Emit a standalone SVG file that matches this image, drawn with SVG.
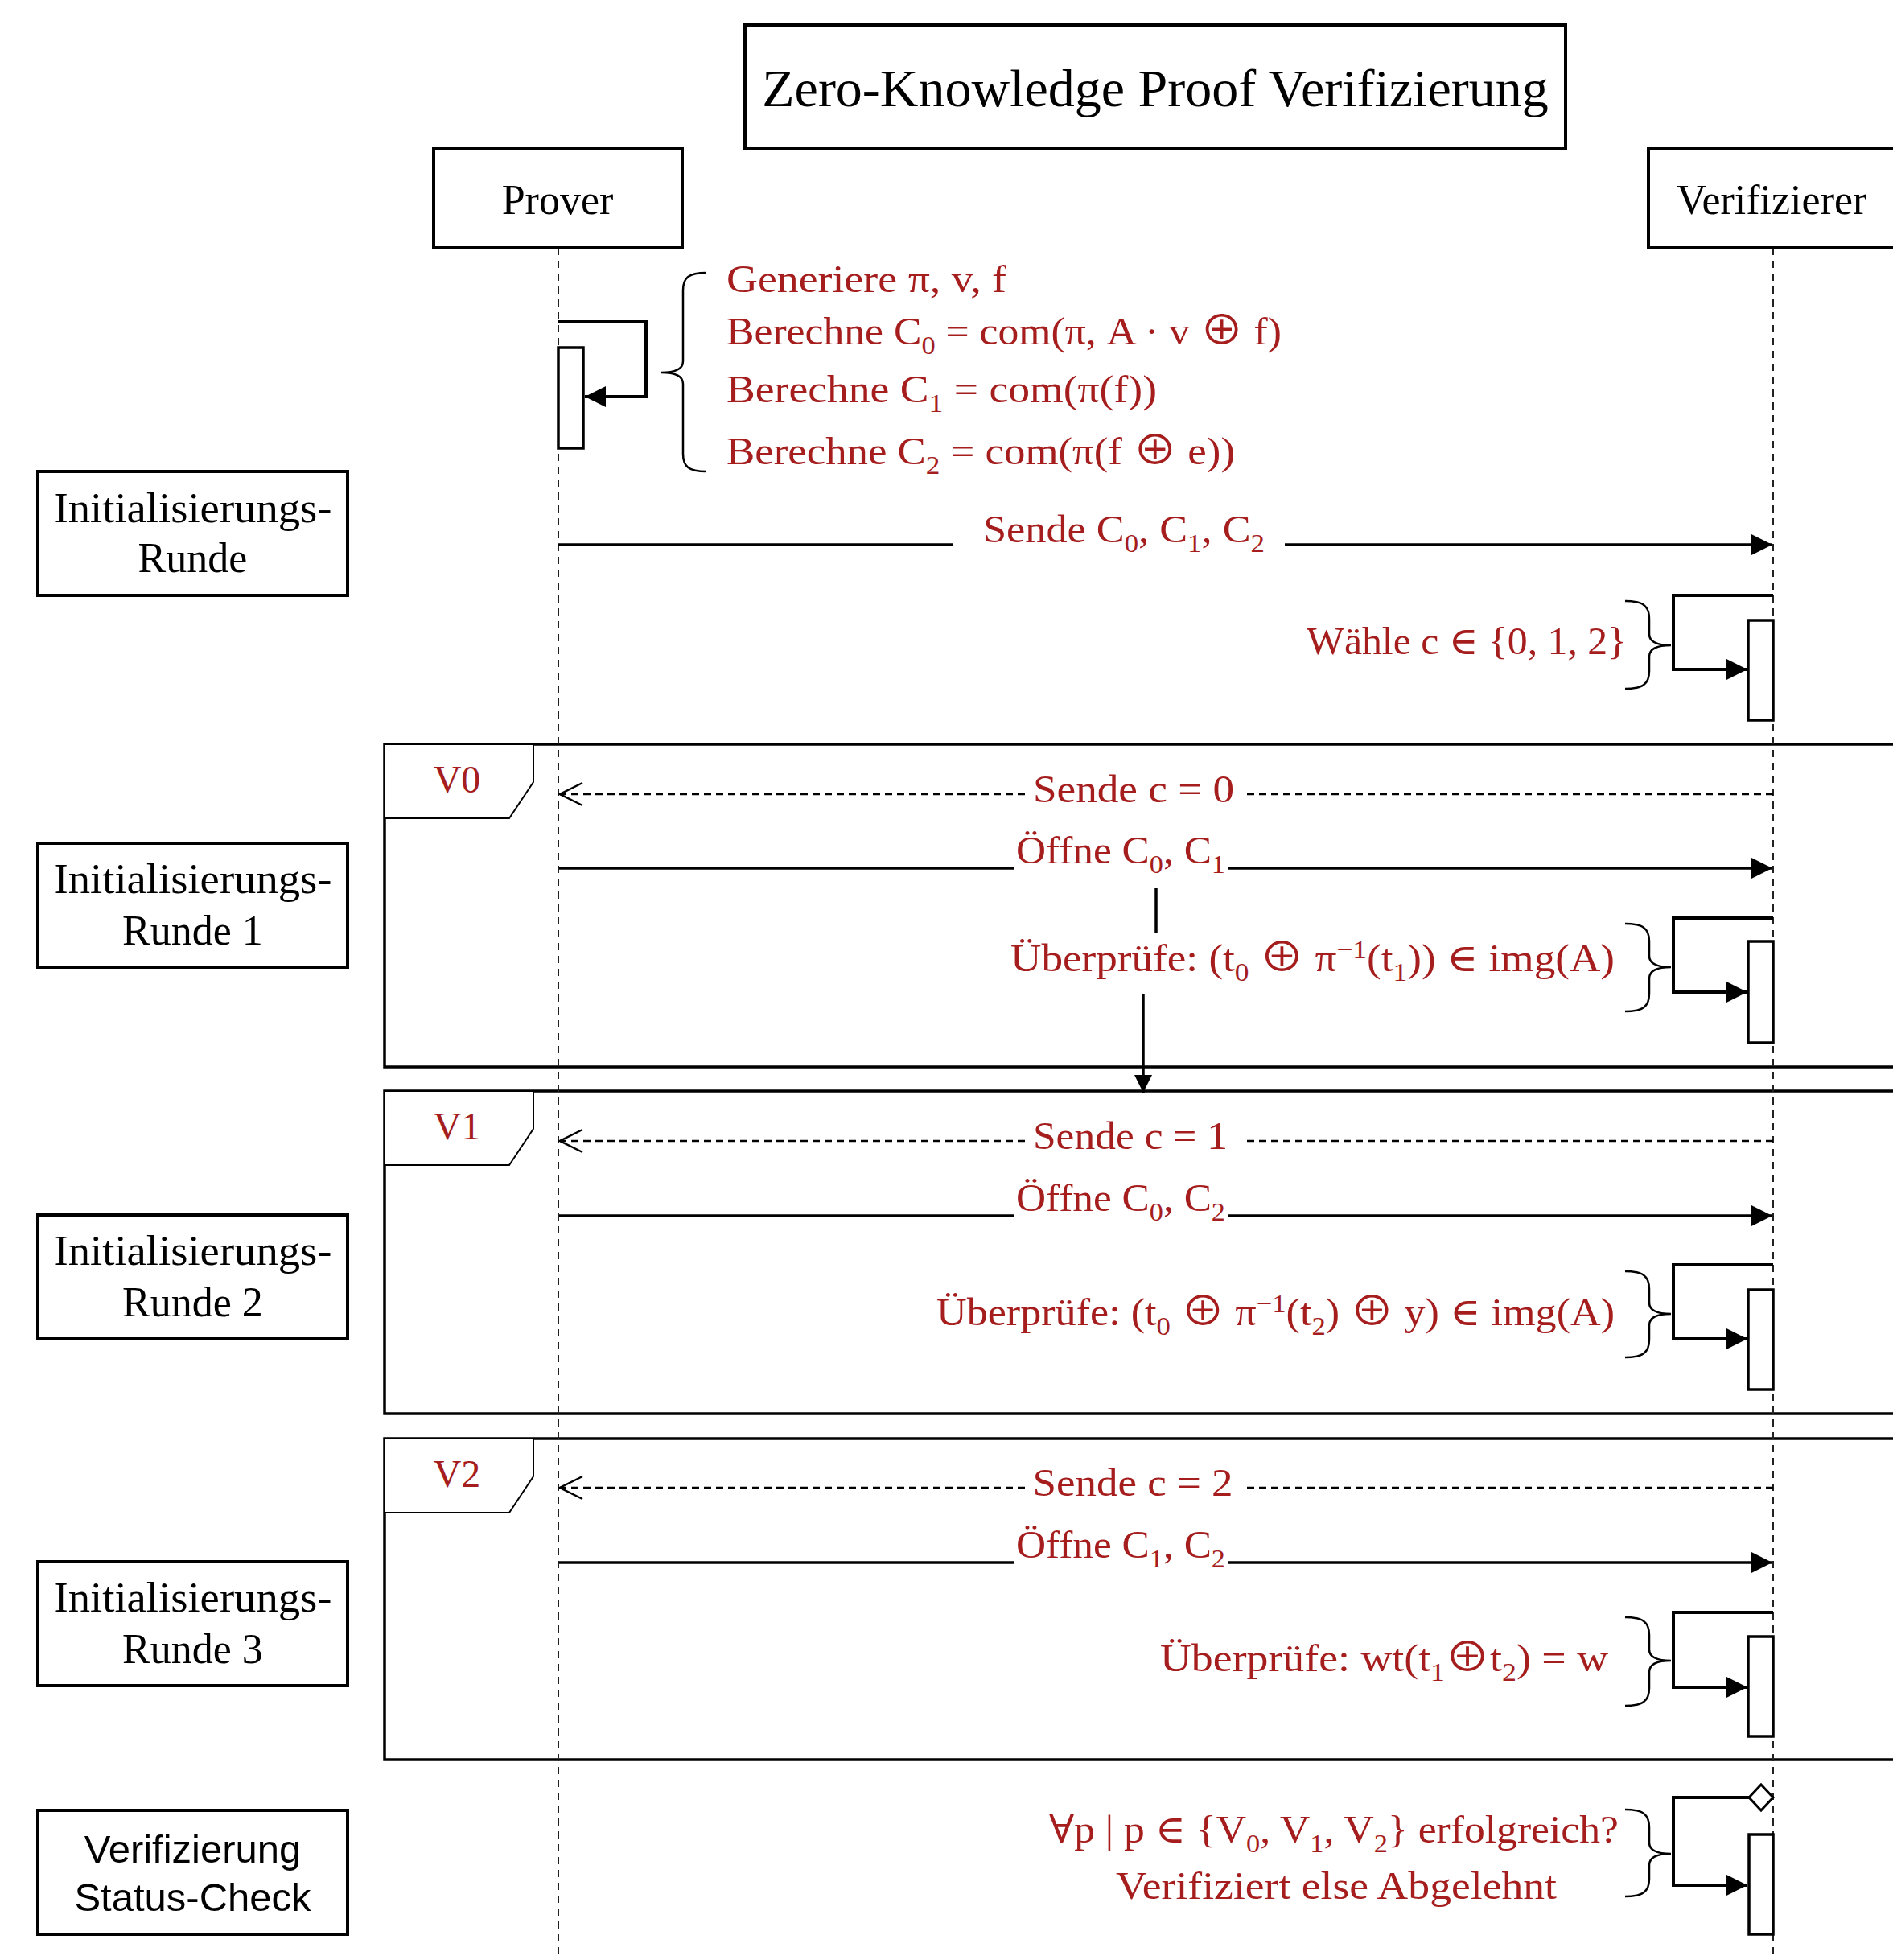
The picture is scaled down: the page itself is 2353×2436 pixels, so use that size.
<svg xmlns="http://www.w3.org/2000/svg" width="2353" height="2436" viewBox="0 0 2353 2436">
<style>
.box{fill:#fff;stroke:#000;stroke-width:4}
.t{font-family:"Liberation Serif","DejaVu Serif",serif;fill:#000}
.s{font-family:"Liberation Sans",Arial,sans-serif;fill:#000}
.r{font-family:"Liberation Serif","DejaVu Serif",serif;fill:#a51d1d;font-size:48px}
.life{stroke:#222;stroke-width:2;stroke-dasharray:9 7;fill:none}
.msg{stroke:#000;stroke-width:3.5;fill:none}
.dash{stroke:#000;stroke-width:2.5;stroke-dasharray:9 6;fill:none}
.act{fill:#fff;stroke:#000;stroke-width:3.5}
.self{stroke:#000;stroke-width:4;fill:none}
.brace{stroke:#000;stroke-width:2.5;fill:none}
.frame{stroke:#000;stroke-width:3.5;fill:none}
.tab{fill:#fff;stroke:#000;stroke-width:2}
.sub{font-size:32px}
.op{font-family:"Noto Sans CJK JP","DejaVu Serif",sans-serif;font-size:50px}
</style>
<defs>
<marker id="ah" markerUnits="userSpaceOnUse" markerWidth="26" markerHeight="26" refX="26" refY="13" orient="auto"><path d="M0,0 L26,13 L0,26 z" fill="#000"/></marker>
<marker id="ahs" markerUnits="userSpaceOnUse" markerWidth="22" markerHeight="22" refX="22" refY="11" orient="auto"><path d="M0,0 L22,11 L0,22 z" fill="#000"/></marker>
<marker id="oh" markerUnits="userSpaceOnUse" markerWidth="32" markerHeight="32" refX="30" refY="16" orient="auto"><path d="M2,2 L30,16 L2,30" fill="none" stroke="#000" stroke-width="2.5"/></marker>
</defs>
<rect width="2353" height="2436" fill="#fff"/>

<!-- fragments -->
<g id="frame-v0">
<path class="frame" d="M2360,925 H478 V1326 H2360"/>
<path class="tab" d="M478,925 H663 V972 L633,1017 H478 Z"/>
<text class="r" x="568" y="985" text-anchor="middle" font-size="40">V0</text>
</g>
<g id="frame-v1">
<path class="frame" d="M2360,1356 H478 V1757 H2360"/>
<path class="tab" d="M478,1356 H663 V1403 L633,1448 H478 Z"/>
<text class="r" x="568" y="1416" text-anchor="middle" font-size="40">V1</text>
</g>
<g id="frame-v2">
<path class="frame" d="M2360,1788 H478 V2187 H2360"/>
<path class="tab" d="M478,1788 H663 V1835 L633,1880 H478 Z"/>
<text class="r" x="568" y="1848" text-anchor="middle" font-size="40">V2</text>
</g>

<!-- lifelines -->
<g id="lifelines">
<line class="life" x1="694" y1="308" x2="694" y2="2436"/>
<line class="life" x1="2204" y1="308" x2="2204" y2="2436"/>
</g>

<g id="title">
<rect class="box" x="926" y="31" width="1020" height="154"/>
<text class="t" x="1436" y="132" text-anchor="middle" font-size="66">Zero-Knowledge Proof Verifizierung</text>
</g>

<g id="prover">
<rect class="box" x="539" y="185" width="309" height="123"/>
<text class="t" x="693" y="266" text-anchor="middle" font-size="52">Prover</text>
</g>
<g id="verifier">
<rect class="box" x="2049" y="185" width="320" height="123"/>
<text class="t" x="2202" y="266" text-anchor="middle" font-size="52">Verifizierer</text>
</g>

<g id="label-init">
<rect class="box" x="47" y="586" width="385" height="154"/>
<text class="t" x="239.5" y="649" text-anchor="middle" font-size="52" textLength="346" lengthAdjust="spacingAndGlyphs">Initialisierungs-</text>
<text class="t" x="239.5" y="711" text-anchor="middle" font-size="52">Runde</text>
</g>
<g id="label-r1">
<rect class="box" x="47" y="1048" width="385" height="154"/>
<text class="t" x="239.5" y="1110" text-anchor="middle" font-size="52" textLength="346" lengthAdjust="spacingAndGlyphs">Initialisierungs-</text>
<text class="t" x="239.5" y="1174" text-anchor="middle" font-size="52">Runde 1</text>
</g>
<g id="label-r2">
<rect class="box" x="47" y="1510" width="385" height="154"/>
<text class="t" x="239.5" y="1572" text-anchor="middle" font-size="52" textLength="346" lengthAdjust="spacingAndGlyphs">Initialisierungs-</text>
<text class="t" x="239.5" y="1636" text-anchor="middle" font-size="52">Runde 2</text>
</g>
<g id="label-r3">
<rect class="box" x="47" y="1941" width="385" height="154"/>
<text class="t" x="239.5" y="2003" text-anchor="middle" font-size="52" textLength="346" lengthAdjust="spacingAndGlyphs">Initialisierungs-</text>
<text class="t" x="239.5" y="2067" text-anchor="middle" font-size="52">Runde 3</text>
</g>
<g id="label-status">
<rect class="box" x="47" y="2250" width="385" height="154"/>
<text class="s" x="239.5" y="2315" text-anchor="middle" font-size="49">Verifizierung</text>
<text class="s" x="239.5" y="2375" text-anchor="middle" font-size="49">Status-Check</text>
</g>

<!-- connectors -->
<g id="connectors">
<path class="self" d="M694,400 H803 V493 H727" marker-end="url(#ah)"/>
<line class="msg" x1="694" y1="677" x2="1185" y2="677"/>
<line class="msg" x1="1597" y1="677" x2="2203" y2="677" marker-end="url(#ah)"/>
<path class="self" d="M2204,740 H2080 V832 H2172" marker-end="url(#ah)"/>

<line class="dash" x1="2204" y1="987" x2="1548" y2="987"/>
<line class="dash" x1="1274" y1="987" x2="696" y2="987" marker-end="url(#oh)"/>
<line class="msg" x1="695" y1="1079" x2="1261" y2="1079"/>
<line class="msg" x1="1527" y1="1079" x2="2203" y2="1079" marker-end="url(#ah)"/>
<path class="self" d="M2204,1141 H2080 V1233 H2172" marker-end="url(#ah)"/>
<line class="msg" x1="1437" y1="1104" x2="1437" y2="1159" stroke-width="3"/>
<line class="msg" x1="1421" y1="1235" x2="1421" y2="1358" stroke-width="3" marker-end="url(#ahs)"/>

<line class="dash" x1="2204" y1="1418" x2="1548" y2="1418"/>
<line class="dash" x1="1274" y1="1418" x2="696" y2="1418" marker-end="url(#oh)"/>
<line class="msg" x1="695" y1="1511" x2="1261" y2="1511"/>
<line class="msg" x1="1527" y1="1511" x2="2203" y2="1511" marker-end="url(#ah)"/>
<path class="self" d="M2204,1572 H2080 V1664 H2172" marker-end="url(#ah)"/>

<line class="dash" x1="2204" y1="1849" x2="1548" y2="1849"/>
<line class="dash" x1="1274" y1="1849" x2="696" y2="1849" marker-end="url(#oh)"/>
<line class="msg" x1="695" y1="1942" x2="1261" y2="1942"/>
<line class="msg" x1="1527" y1="1942" x2="2203" y2="1942" marker-end="url(#ah)"/>
<path class="self" d="M2204,2004 H2080 V2097 H2172" marker-end="url(#ah)"/>

<path class="self" d="M2174,2234 H2080 V2343 H2172" marker-end="url(#ah)"/>
</g>

<!-- activations -->
<g id="act-prover"><rect class="act" x="694" y="432" width="31" height="125"/></g>
<g id="act-choose"><rect class="act" x="2173" y="771" width="31" height="124"/></g>
<g id="act-v0"><rect class="act" x="2173" y="1170" width="31" height="126"/></g>
<g id="act-v1"><rect class="act" x="2173" y="1603" width="31" height="124"/></g>
<g id="act-v2"><rect class="act" x="2173" y="2034" width="31" height="124"/></g>
<g id="act-status">
<rect class="act" x="2174" y="2280" width="30" height="124"/>
<path d="M2174,2234 L2189,2218 L2204,2234 L2189,2250 Z" fill="#fff" stroke="#000" stroke-width="3"/>
</g>

<!-- notes -->
<g id="note-prover">
<path class="brace" d="M878,339 C856,339 849,345 849,361 L849,449 C849,459 840,463 822,463 C840,463 849,467 849,477 L849,564 C849,580 856,586 878,586"/>
<text class="r" x="903" y="363" textLength="348" lengthAdjust="spacingAndGlyphs">Generiere π, v, f</text>
<text class="r" x="903" y="428" textLength="690" lengthAdjust="spacingAndGlyphs">Berechne C<tspan class="sub" dy="12">0</tspan><tspan dy="-12"> = com(π, A · v </tspan><tspan class="op">⊕</tspan><tspan> f)</tspan></text>
<text class="r" x="903" y="500" textLength="535" lengthAdjust="spacingAndGlyphs">Berechne C<tspan class="sub" dy="12">1</tspan><tspan dy="-12"> = com(π(f))</tspan></text>
<text class="r" x="903" y="577" textLength="632" lengthAdjust="spacingAndGlyphs">Berechne C<tspan class="sub" dy="12">2</tspan><tspan dy="-12"> = com(π(f </tspan><tspan class="op">⊕</tspan><tspan> e))</tspan></text>
</g>
<g id="msg-send-c">
<text class="r" x="1397" y="674" text-anchor="middle" textLength="350" lengthAdjust="spacingAndGlyphs">Sende C<tspan class="sub" dy="12">0</tspan><tspan dy="-12">, C</tspan><tspan class="sub" dy="12">1</tspan><tspan dy="-12">, C</tspan><tspan class="sub" dy="12">2</tspan></text>
</g>
<g id="note-choose">
<path class="brace" d="M2020,747 C2042,747 2050,753 2050,769 L2050,788 C2050,798 2060,802 2077,802 C2060,802 2050,806 2050,816 L2050,834 C2050,850 2042,856 2020,856"/>
<text class="r" x="2022" y="813" text-anchor="end" textLength="398" lengthAdjust="spacingAndGlyphs">Wähle c ∈ {0, 1, 2}</text>
</g>

<g id="msgs-v0">
<text class="r" x="1409" y="997" text-anchor="middle" textLength="250" lengthAdjust="spacingAndGlyphs">Sende c = 0</text>
<text class="r" x="1393" y="1073" text-anchor="middle" textLength="260" lengthAdjust="spacingAndGlyphs">Öffne C<tspan class="sub" dy="12">0</tspan><tspan dy="-12">, C</tspan><tspan class="sub" dy="12">1</tspan></text>
</g>
<g id="note-v0">
<path class="brace" d="M2020,1148 C2042,1148 2050,1154 2050,1170 L2050,1188 C2050,1198 2060,1202 2077,1202 C2060,1202 2050,1206 2050,1216 L2050,1235 C2050,1251 2042,1257 2020,1257"/>
<text class="r" x="2007" y="1207" text-anchor="end" textLength="751" lengthAdjust="spacingAndGlyphs">Überprüfe: (t<tspan class="sub" dy="12">0</tspan><tspan dy="-12"> </tspan><tspan class="op">⊕</tspan><tspan> π</tspan><tspan class="sub" dy="-16">−1</tspan><tspan dy="16">(t</tspan><tspan class="sub" dy="12">1</tspan><tspan dy="-12">)) ∈ img(A)</tspan></text>
</g>

<g id="msgs-v1">
<text class="r" x="1405" y="1428" text-anchor="middle" textLength="242" lengthAdjust="spacingAndGlyphs">Sende c = 1</text>
<text class="r" x="1393" y="1505" text-anchor="middle" textLength="260" lengthAdjust="spacingAndGlyphs">Öffne C<tspan class="sub" dy="12">0</tspan><tspan dy="-12">, C</tspan><tspan class="sub" dy="12">2</tspan></text>
</g>
<g id="note-v1">
<path class="brace" d="M2020,1580 C2042,1580 2050,1586 2050,1602 L2050,1619 C2050,1629 2060,1633 2077,1633 C2060,1633 2050,1637 2050,1647 L2050,1665 C2050,1681 2042,1687 2020,1687"/>
<text class="r" x="2007" y="1647" text-anchor="end" textLength="843" lengthAdjust="spacingAndGlyphs">Überprüfe: (t<tspan class="sub" dy="12">0</tspan><tspan dy="-12"> </tspan><tspan class="op">⊕</tspan><tspan> π</tspan><tspan class="sub" dy="-16">−1</tspan><tspan dy="16">(t</tspan><tspan class="sub" dy="12">2</tspan><tspan dy="-12">) </tspan><tspan class="op">⊕</tspan><tspan> y) ∈ img(A)</tspan></text>
</g>

<g id="msgs-v2">
<text class="r" x="1408" y="1859" text-anchor="middle" textLength="249" lengthAdjust="spacingAndGlyphs">Sende c = 2</text>
<text class="r" x="1393" y="1936" text-anchor="middle" textLength="260" lengthAdjust="spacingAndGlyphs">Öffne C<tspan class="sub" dy="12">1</tspan><tspan dy="-12">, C</tspan><tspan class="sub" dy="12">2</tspan></text>
</g>
<g id="note-v2">
<path class="brace" d="M2020,2010 C2042,2010 2050,2016 2050,2032 L2050,2050 C2050,2060 2060,2064 2077,2064 C2060,2064 2050,2068 2050,2078 L2050,2098 C2050,2114 2042,2120 2020,2120"/>
<text class="r" x="1999" y="2077" text-anchor="end" textLength="557" lengthAdjust="spacingAndGlyphs">Überprüfe: wt(t<tspan class="sub" dy="12">1</tspan><tspan class="op" dy="-12">⊕</tspan><tspan>t</tspan><tspan class="sub" dy="12">2</tspan><tspan dy="-12">) = w</tspan></text>
</g>

<g id="note-status">
<path class="brace" d="M2020,2249 C2042,2249 2050,2255 2050,2271 L2050,2290 C2050,2300 2060,2304 2077,2304 C2060,2304 2050,2308 2050,2318 L2050,2335 C2050,2351 2042,2357 2020,2357"/>
<text class="r" x="1658" y="2290" text-anchor="middle" textLength="708" lengthAdjust="spacingAndGlyphs">∀p | p ∈ {V<tspan class="sub" dy="12">0</tspan><tspan dy="-12">, V</tspan><tspan class="sub" dy="12">1</tspan><tspan dy="-12">, V</tspan><tspan class="sub" dy="12">2</tspan><tspan dy="-12">} erfolgreich?</tspan></text>
<text class="r" x="1661" y="2360" text-anchor="middle" textLength="548" lengthAdjust="spacingAndGlyphs">Verifiziert else Abgelehnt</text>
</g>
</svg>
